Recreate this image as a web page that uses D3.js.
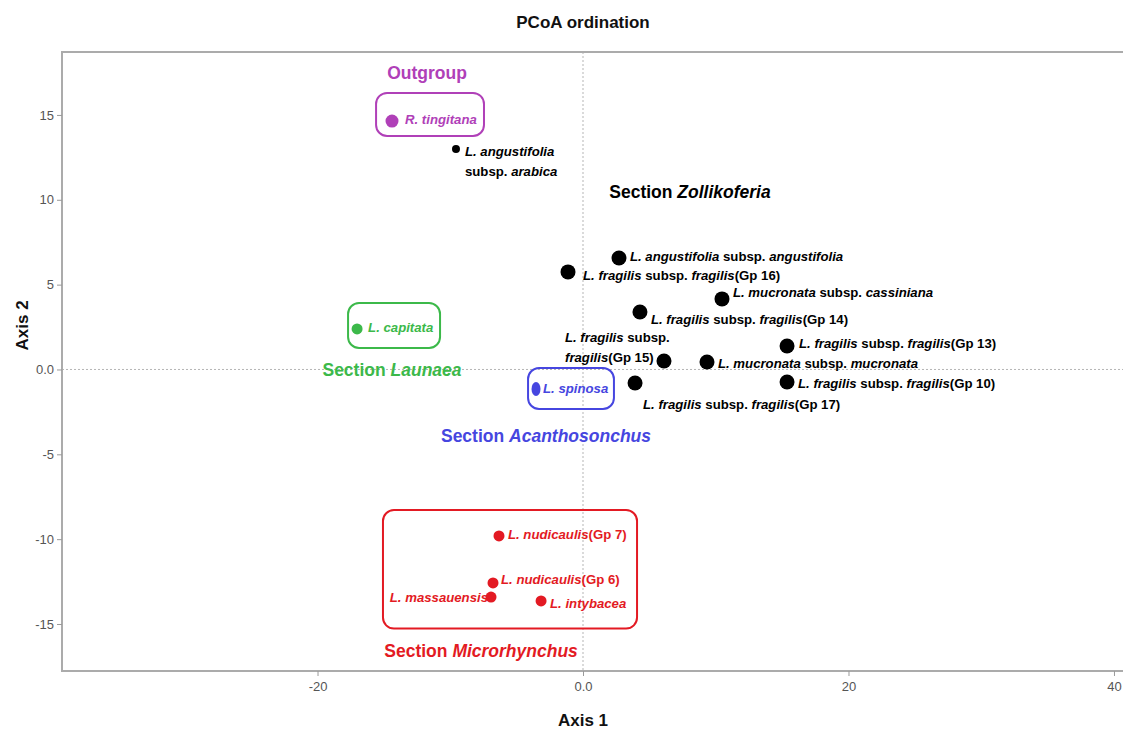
<!DOCTYPE html>
<html>
<head>
<meta charset="utf-8">
<script src="https://cdn.jsdelivr.net/npm/d3@7"></script>
<style>
  html, body { margin: 0; padding: 0; background: #fff; }
  svg { display: block; font-family: "Liberation Sans", Arial, sans-serif; }
</style>
</head>
<body>
<svg id="chart" width="1123" height="731"></svg>
<script>
// ---------------- DATA ----------------
const taxa = [
  "*R. tingitana*",
  "*L. angustifolia*\nsubsp. *arabica*",
  "*L. angustifolia* subsp. *angustifolia*",
  "*L. fragilis* subsp. *fragilis*(Gp 16)",
  "*L. mucronata* subsp. *cassiniana*",
  "*L. fragilis* subsp. *fragilis*(Gp 14)",
  "*L. fragilis* subsp. *fragilis*(Gp 13)",
  "*L. fragilis* subsp.\n*fragilis*(Gp 15)",
  "*L. mucronata* subsp. *mucronata*",
  "*L. fragilis* subsp. *fragilis*(Gp 10)",
  "*L. fragilis* subsp. *fragilis*(Gp 17)",
  "*L. capitata*",
  "*L. spinosa*",
  "*L. nudicaulis*(Gp 7)",
  "*L. nudicaulis*(Gp 6)",
  "*L. massauensis*",
  "*L. intybacea*"
];
const axis1 = [-14.39, -9.57, 2.71, -1.13, 10.47, 4.29, 15.37, 6.10, 9.34, 15.37, 3.92, -17.02, -3.54, -6.33, -6.78, -6.93, -3.16];
const axis2 = [14.64, 12.99, 6.57, 5.75, 4.16, 3.39, 1.38, 0.50, 0.44, -0.74, -0.80, 2.39, -1.15, -9.81, -12.58, -13.41, -13.64];
const groups = ["Outgroup", "Unplaced", "Zollikoferia", "Zollikoferia", "Zollikoferia", "Zollikoferia", "Zollikoferia",
  "Zollikoferia", "Zollikoferia", "Zollikoferia", "Zollikoferia", "Launaea", "Acanthosonchus",
  "Microrhynchus", "Microrhynchus", "Microrhynchus", "Microrhynchus"];

const sectionNames = ["Outgroup", "Section *Zollikoferia*", "Section *Launaea*", "Section *Acanthosonchus*", "Section *Microrhynchus*"];
const sectionGroups = ["Outgroup", "Zollikoferia", "Launaea", "Acanthosonchus", "Microrhynchus"];

const xTicks = [-20, 0, 20, 40];
const xTickLabels = ["-20", "0.0", "20", "40"];
const yTicks = [-15, -10, -5, 0, 5, 10, 15];
const yTickLabels = ["-15", "-10", "-5", "0.0", "5", "10", "15"];

const titleText = "PCoA ordination";
const xAxisTitle = "Axis 1";
const yAxisTitle = "Axis 2";

// ---------------- LAYOUT / STYLE ----------------
const colors = {
  Outgroup: "#b040b8", Unplaced: "#000", Zollikoferia: "#000",
  Launaea: "#3cb94a", Acanthosonchus: "#4646e0", Microrhynchus: "#e31a23"
};
const radius = {
  Outgroup: 6.5, Unplaced: 4, Zollikoferia: 7.5, Launaea: 5.5, Acanthosonchus: 5.5, Microrhynchus: 5.5
};
// label offsets in px from point: [dx, dy(baseline), anchor]
const labelOffsets = [
  [13, 3, "start"], [9, 7, "start"], [11, 3, "start"], [15, 8, "start"], [11, -2, "start"],
  [11, 12, "start"], [12, 2, "start"], [-99, -19, "start"], [11, 6, "start"], [11, 6, "start"],
  [8, 26, "start"], [11, 3, "start"], [7, 4, "start"], [9, 3, "start"], [8, 1, "start"],
  [-3, 5, "end"], [9, 7, "start"]
];
// section title anchors (data units, text centre)
const sectionPos = [[-11.75, 17.47], [8.06, 10.46], [-14.39, -0.03], [-2.79, -3.92], [-7.68, -16.59]];
// enclosing boxes (data units): [x0, x1, yTop, yBottom]
const boxes = [
  ["Outgroup", -15.59, -7.46, 16.30, 13.76],
  ["Launaea", -17.70, -10.77, 3.92, 1.27],
  ["Acanthosonchus", -4.14, 2.33, 0.09, -2.33],
  ["Microrhynchus", -15.07, 4.07, -8.28, -15.27]
];

const plot = { left: 62, right: 1125, top: 52, bottom: 671 };

// ---------------- SCALES ----------------
const x = d3.scaleLinear().domain([-39.25, 40.83]).range([plot.left, plot.right]);
const y = d3.scaleLinear().domain([-17.77, 18.71]).range([plot.bottom, plot.top]);

const svg = d3.select("#chart");

function richText(sel, str) {
  str.split("*").forEach((seg, i) => {
    if (seg === "") return;
    sel.append("tspan").attr("font-style", i % 2 ? "italic" : "normal").text(seg);
  });
}

// reference lines
svg.append("line").attr("x1", plot.left).attr("x2", plot.right)
  .attr("y1", y(0)).attr("y2", y(0))
  .attr("stroke", "#b5b5b5").attr("stroke-width", 1).attr("stroke-dasharray", "2,2");
svg.append("line").attr("x1", x(0)).attr("x2", x(0))
  .attr("y1", plot.top).attr("y2", plot.bottom)
  .attr("stroke", "#b5b5b5").attr("stroke-width", 1).attr("stroke-dasharray", "2,2");

// frame
svg.append("path")
  .attr("d", `M${plot.right},${plot.top}H${plot.left}V${plot.bottom}H${plot.right}`)
  .attr("fill", "none").attr("stroke", "#ababab").attr("stroke-width", 2);

// axes
const xAxis = d3.axisBottom(x).tickValues(xTicks).tickSize(5).tickPadding(6)
  .tickFormat((d, i) => xTickLabels[i]);
const gx = svg.append("g").attr("transform", `translate(0,${plot.bottom})`).call(xAxis);
gx.select(".domain").remove();
gx.selectAll("line").attr("stroke", "#9a9a9a");
gx.selectAll("text").attr("fill", "#555").attr("font-size", 13).attr("font-family", "Liberation Sans, Arial, sans-serif");

const yAxis = d3.axisLeft(y).tickValues(yTicks).tickSize(5).tickPadding(3)
  .tickFormat((d, i) => yTickLabels[i]);
const gy = svg.append("g").attr("transform", `translate(${plot.left},0)`).call(yAxis);
gy.select(".domain").remove();
gy.selectAll("line").attr("stroke", "#9a9a9a");
gy.selectAll("text").attr("fill", "#555").attr("font-size", 13).attr("font-family", "Liberation Sans, Arial, sans-serif");

// titles
svg.append("text").attr("x", x(0)).attr("y", 28).attr("text-anchor", "middle")
  .attr("font-size", 17).attr("font-weight", "bold").attr("fill", "#111").text(titleText);
svg.append("text").attr("x", x(0)).attr("y", 726).attr("text-anchor", "middle")
  .attr("font-size", 17).attr("font-weight", "bold").attr("fill", "#111").text(xAxisTitle);
svg.append("text").attr("transform", `translate(28,${y(2.6)}) rotate(-90)`).attr("text-anchor", "middle")
  .attr("font-size", 17).attr("font-weight", "bold").attr("fill", "#111").text(yAxisTitle);

// boxes
svg.append("g").selectAll("rect").data(boxes).join("rect")
  .attr("x", d => x(d[1])).attr("width", d => x(d[2]) - x(d[1]))
  .attr("y", d => y(d[3])).attr("height", d => y(d[4]) - y(d[3]))
  .attr("rx", 11).attr("ry", 11)
  .attr("fill", "none").attr("stroke", d => colors[d[0]]).attr("stroke-width", 2);

// points
const pts = taxa.map((t, i) => ({ t, x: axis1[i], y: axis2[i], g: groups[i], o: labelOffsets[i] }));
svg.append("g").selectAll("ellipse").data(pts).join("ellipse")
  .attr("cx", d => x(d.x)).attr("cy", d => y(d.y))
  .attr("rx", d => d.g === "Acanthosonchus" ? radius[d.g] - 1 : radius[d.g])
  .attr("ry", d => d.g === "Acanthosonchus" ? radius[d.g] + 1.5 : radius[d.g])
  .attr("fill", d => colors[d.g]);

// point labels
const lg = svg.append("g").attr("font-size", 13.2).attr("font-weight", "bold");
pts.forEach(d => {
  const lines = d.t.split("\n");
  lines.forEach((ln, k) => {
    const t = lg.append("text")
      .attr("x", x(d.x) + d.o[0]).attr("y", y(d.y) + d.o[1] + k * 20)
      .attr("text-anchor", d.o[2]).attr("fill", colors[d.g]);
    richText(t, ln);
  });
});

// section titles
sectionNames.forEach((s, i) => {
  const t = svg.append("text").attr("x", x(sectionPos[i][0])).attr("y", y(sectionPos[i][1]))
    .attr("dy", "0.35em").attr("text-anchor", "middle")
    .attr("font-size", 17.5).attr("font-weight", "bold").attr("fill", colors[sectionGroups[i]]);
  richText(t, s);
});
</script>
</body>
</html>
